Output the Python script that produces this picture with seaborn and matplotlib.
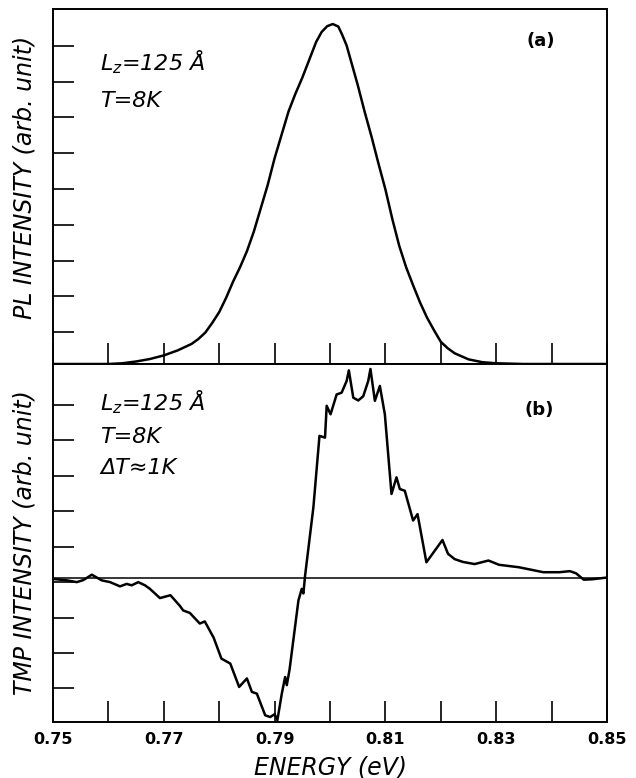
import matplotlib
matplotlib.use("Agg")
import matplotlib.pyplot as plt
import numpy as np
import pandas as pd
import seaborn as sns

# (a) PL spectrum
pl_energy = [0.750, 0.755, 0.760, 0.7625, 0.765, 0.7675, 0.770, 0.7725, 0.775, 0.77625,
             0.7775, 0.77875, 0.780, 0.78125, 0.7825, 0.78375, 0.785, 0.78625, 0.7875, 0.78875,
             0.790, 0.79125, 0.7925, 0.79375, 0.795, 0.79625, 0.7975, 0.7985, 0.7995, 0.8005,
             0.8015, 0.8022, 0.8030, 0.8040, 0.805, 0.80625, 0.8075, 0.80875, 0.810, 0.81125,
             0.8125, 0.81375, 0.815, 0.81625, 0.8175, 0.81875, 0.820, 0.82125, 0.8225, 0.825,
             0.8275, 0.830, 0.835, 0.840, 0.845, 0.850]
pl_intensity = [0.0, 0.0, 0.0, 0.02, 0.07, 0.14, 0.24, 0.38, 0.56, 0.70,
                0.88, 1.15, 1.45, 1.85, 2.30, 2.70, 3.15, 3.70, 4.35, 5.00,
                5.75, 6.40, 7.05, 7.55, 8.00, 8.50, 9.00, 9.28, 9.44, 9.50,
                9.43, 9.20, 8.90, 8.35, 7.80, 7.05, 6.35, 5.60, 4.88, 4.05,
                3.30, 2.70, 2.20, 1.72, 1.30, 0.95, 0.62, 0.44, 0.30, 0.13,
                0.05, 0.02, 0.0, 0.0, 0.0, 0.0]

# (b) TMP spectrum
tmp_energy = [0.7500, 0.7525, 0.7543, 0.7555, 0.7570, 0.7588, 0.7603, 0.7621, 0.7633, 0.7642,
              0.7654, 0.7666, 0.7675, 0.7693, 0.7712, 0.7729, 0.7735, 0.7747, 0.7765, 0.7774,
              0.7790, 0.7804, 0.7820, 0.7836, 0.7850, 0.7859, 0.7868, 0.7883, 0.7892, 0.7900,
              0.7905, 0.7913, 0.7919, 0.7922, 0.7927, 0.7943, 0.7949, 0.7952, 0.7955, 0.7970,
              0.7981, 0.7991, 0.7994, 0.8001, 0.8012, 0.8021, 0.8030, 0.8034, 0.8042, 0.8051,
              0.8060, 0.8069, 0.8073, 0.8081, 0.8090, 0.8099, 0.8111, 0.8120, 0.8126, 0.8135,
              0.8150, 0.8158, 0.8174, 0.8203, 0.8213, 0.8225, 0.8240, 0.8261, 0.8286, 0.8305,
              0.8341, 0.8385, 0.8414, 0.8433, 0.8444, 0.8458, 0.8473, 0.8500]
tmp_intensity = [-0.04, -0.08, -0.13, -0.07, 0.08, -0.08, -0.13, -0.25, -0.18, -0.22,
                 -0.13, -0.22, -0.32, -0.58, -0.50, -0.80, -0.93, -1.00, -1.30, -1.24,
                 -1.70, -2.29, -2.43, -3.09, -2.85, -3.23, -3.28, -3.89, -3.94, -3.86,
                 -4.03, -3.28, -2.81, -3.04, -2.60, -0.65, -0.32, -0.45, 0.05, 1.98,
                 4.00, 3.95, 4.85, 4.61, 5.17, 5.22, 5.55, 5.85, 5.08, 5.00,
                 5.12, 5.55, 5.89, 4.99, 5.41, 4.61, 2.36, 2.83, 2.50, 2.45,
                 1.61, 1.79, 0.43, 1.06, 0.67, 0.52, 0.44, 0.38, 0.48, 0.36,
                 0.29, 0.15, 0.15, 0.18, 0.12, -0.06, -0.05, 0.0]

energy_ticks = [0.75, 0.76, 0.77, 0.78, 0.79, 0.80, 0.81, 0.82, 0.83, 0.84, 0.85]
energy_labels = ["0.75", "", "0.77", "", "0.79", "", "0.81", "", "0.83", "", "0.85"]
pl_yticks = [0.89, 1.89, 2.89, 3.89, 4.89, 5.89, 6.89, 7.89, 8.89]
tmp_yticks = [-3.13, -2.13, -1.13, -0.13, 0.87, 1.87, 2.87, 3.87, 4.87]

sns.set_style("ticks")
plt.rcParams["font.family"] = ["DejaVu Sans"]
plt.rcParams["text.color"] = "black"
plt.rcParams["xtick.labelcolor"] = "black"

W, H = 636, 778
fig = plt.figure(figsize=(W / 100, H / 100), dpi=100)

def box(top, bottom):
    return [53 / W, 1 - bottom / H, (607 - 53) / W, (bottom - top) / H]

ax_a = fig.add_axes(box(9, 364))
ax_b = fig.add_axes(box(364, 722))

sns.lineplot(x=pl_energy, y=pl_intensity, ax=ax_a, color="black", lw=1.8)
sns.lineplot(x=tmp_energy, y=tmp_intensity, ax=ax_b, color="black", lw=1.8)
ax_b.axhline(0, color="black", lw=1.1)

ax_a.set_ylim(0, 9.92)
ax_b.set_ylim(-4.08, 6.03)
ax_a.set_yticks(pl_yticks)
ax_b.set_yticks(tmp_yticks)

for ax in (ax_a, ax_b):
    ax.set_xlim(0.75, 0.85)
    ax.set_xticks(energy_ticks)
    ax.set_yticklabels([])
    ax.set_xlabel("")
    ax.set_ylabel("")
    ax.tick_params(direction="in", length=15, width=1.2, color="black")
    for s in ax.spines.values():
        s.set_visible(True)
        s.set_linewidth(1.4)
        s.set_color("black")

ax_a.set_xticklabels([])
ax_b.set_xticklabels(energy_labels, fontsize=11.5, fontweight="bold", color="black")
ax_b.tick_params(axis="x", pad=7)

def fx(x):
    return x / W

def fy(y):
    return 1 - y / H

# axis titles
fig.text(fx(25), fy(177), "PL INTENSITY (arb. unit)", rotation=90, ha="center",
         va="center", fontsize=17, style="italic")
fig.text(fx(25), fy(543), "TMP INTENSITY (arb. unit)", rotation=90, ha="center",
         va="center", fontsize=17, style="italic")
fig.text(fx(330), fy(767), "ENERGY (eV)", ha="center", va="center",
         fontsize=17, style="italic")

# annotations
note = dict(fontsize=16, style="italic", ha="left", va="baseline")
fig.text(fx(100), fy(70), r"$L_z$=125 Å", **note)
fig.text(fx(100), fy(107), "T=8K", **note)
fig.text(fx(100), fy(410), r"$L_z$=125 Å", **note)
fig.text(fx(100), fy(443), "T=8K", **note)
fig.text(fx(100), fy(474), "ΔT≈1K", **note)
fig.text(fx(541), fy(41), "(a)", fontsize=13, fontweight="bold", ha="center", va="center")
fig.text(fx(539), fy(410), "(b)", fontsize=13, fontweight="bold", ha="center", va="center")

fig.savefig("out.png", dpi=100)
